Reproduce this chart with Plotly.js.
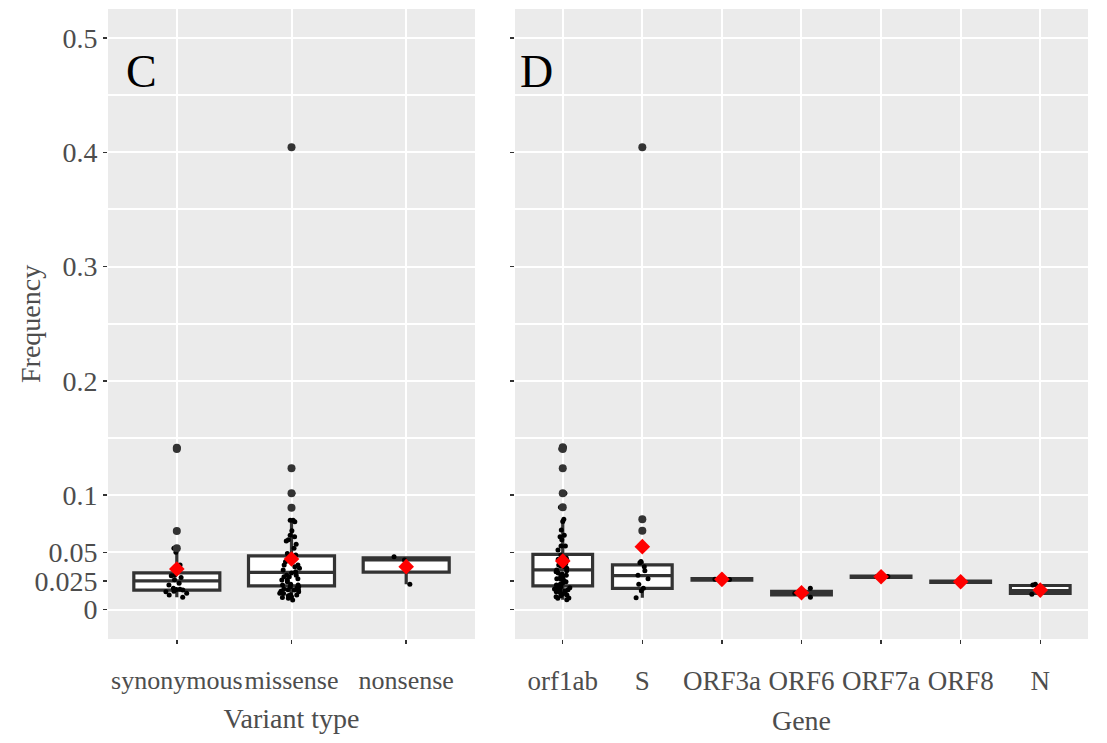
<!DOCTYPE html>
<html>
<head>
<meta charset="utf-8">
<script src="https://cdn.plot.ly/plotly-3.0.1.min.js"></script>
<style>html,body{margin:0;padding:0;background:#fff;}#chart{width:1107px;height:743px;}</style>
</head>
<body>
<div id="chart"></div>
<script>
// ---------- Panel C: variant type ----------
const variantTypes = ['synonymous', 'missense', 'nonsense'];

const synonymousFreq = [0.1416, 0.1405, 0.0687, 0.0535, 0.050, 0.039, 0.0296, 0.030, 0.028, 0.026,
  0.023, 0.0214, 0.0185, 0.0177, 0.0175, 0.0156, 0.0142, 0.016, 0.017, 0.0127, 0.0107];
const missenseFreq = [0.4044, 0.1235, 0.1017, 0.089, 0.078, 0.078, 0.0768, 0.069, 0.065, 0.0637,
  0.061, 0.060, 0.057, 0.0535, 0.049, 0.0477, 0.046, 0.0433, 0.0418, 0.039, 0.039, 0.0375, 0.036,
  0.0346, 0.033, 0.030, 0.030, 0.0287, 0.0287, 0.0258, 0.0258, 0.0243, 0.0214, 0.0214, 0.020, 0.020,
  0.019, 0.0173, 0.017, 0.017, 0.0156, 0.0142, 0.014, 0.0127, 0.0112, 0.0098, 0.0083, 0.012, 0.016,
  0.022, 0.027, 0.032, 0.045, 0.018, 0.013, 0.0105];
const nonsenseFreq = [0.0462, 0.0433, 0.022];

const variantQ1 = [0.017, 0.0206, 0.0327];
const variantMedian = [0.025, 0.0325, 0.0433];
const variantQ3 = [0.032, 0.047, 0.0452];
const variantLowerFence = [0.0107, 0.0085, 0.022];
const variantUpperFence = [0.050, 0.078, 0.0462];
const variantMean = [0.0354, 0.0442, 0.0375];

const variantOutlierType = ['synonymous', 'synonymous', 'synonymous', 'synonymous',
  'missense', 'missense', 'missense', 'missense'];
const variantOutlierFreq = [0.1416, 0.1405, 0.0687, 0.0535, 0.4044, 0.1235, 0.1017, 0.089];

// ---------- Panel D: gene ----------
const genes = ['orf1ab', 'S', 'ORF3a', 'ORF6', 'ORF7a', 'ORF8', 'N'];

const orf1abFreq = [0.142, 0.1405, 0.1235, 0.1017, 0.0894, 0.079, 0.077, 0.0696, 0.065, 0.0637,
  0.061, 0.0556, 0.0555, 0.052, 0.0477, 0.046, 0.045, 0.0433, 0.042, 0.040, 0.039, 0.0375, 0.036,
  0.0346, 0.034, 0.033, 0.031, 0.030, 0.0287, 0.028, 0.0265, 0.0258, 0.0243, 0.023, 0.0214, 0.020,
  0.019, 0.0185, 0.0173, 0.017, 0.0156, 0.015, 0.0142, 0.0135, 0.0127, 0.0112, 0.010, 0.0098, 0.0085,
  0.044, 0.038, 0.032, 0.027, 0.022, 0.018, 0.0165, 0.012];
const sFreq = [0.4044, 0.079, 0.069, 0.042, 0.041, 0.0375, 0.034, 0.030, 0.027, 0.022, 0.0185, 0.0165, 0.0103];
const orf3aFreq = [0.0264, 0.0262];
const orf6Freq = [0.0185, 0.0142, 0.0107];
const orf7aFreq = [0.0287, 0.0289];
const orf8Freq = [0.0246, 0.024];
const nFreq = [0.0214, 0.022, 0.0156, 0.0133];

const geneQ1 = [0.0206, 0.0185, 0.0256, 0.0128, 0.0281, 0.0237, 0.0142];
const geneMedian = [0.0346, 0.0296, 0.0263, 0.0143, 0.0287, 0.0243, 0.0166];
const geneQ3 = [0.0483, 0.039, 0.0270, 0.0158, 0.0293, 0.0249, 0.0210];
const geneLowerFence = [0.0085, 0.0103, 0.0256, 0.0128, 0.0281, 0.0237, 0.0133];
const geneUpperFence = [0.079, 0.042, 0.0270, 0.0158, 0.0293, 0.0249, 0.022];
const geneMean = [0.0425, 0.055, 0.0264, 0.0147, 0.0287, 0.0243, 0.017];

const geneOutlierName = ['orf1ab', 'orf1ab', 'orf1ab', 'orf1ab', 'orf1ab', 'S', 'S', 'S'];
const geneOutlierFreq = [0.142, 0.1405, 0.1235, 0.1017, 0.0894, 0.4044, 0.079, 0.069];

// y-axis ticks
const yTickVals = [0, 0.025, 0.05, 0.1, 0.2, 0.3, 0.4, 0.5];
const yTickText = ['0', '0.025', '0.05', '0.1', '0.2', '0.3', '0.4', '0.5'];
const yGridVals = [0, 0.05, 0.1, 0.15, 0.2, 0.25, 0.3, 0.35, 0.4, 0.45, 0.5];

// ---------- build ----------
function longForm(cats, groups) {
  const x = [], y = [];
  cats.forEach((c, i) => groups[i].forEach(v => { x.push(c); y.push(v); }));
  return {x, y};
}
const variantLong = longForm(variantTypes, [synonymousFreq, missenseFreq, nonsenseFreq]);
const geneLong = longForm(genes, [orf1abFreq, sFreq, orf3aFreq, orf6Freq, orf7aFreq, orf8Freq, nFreq]);

const FONT = 'Liberation Serif, Times New Roman, serif';
const boxLine = {color: '#333333', width: 3.2};

function statBox(cats, q1, med, q3, lo, hi, xa, ya) {
  return {type: 'box', x: cats, q1: q1, median: med, q3: q3, lowerfence: lo, upperfence: hi,
    xaxis: xa, yaxis: ya, width: 0.75, fillcolor: '#FFFFFF', line: boxLine, whiskerwidth: 0,
    boxpoints: false, hoverinfo: 'skip', showlegend: false};
}
function outliers(x, y, xa, ya) {
  return {type: 'scatter', mode: 'markers', x: x, y: y, xaxis: xa, yaxis: ya,
    marker: {size: 8, color: '#333333'}, hoverinfo: 'skip', showlegend: false};
}
function jitterPts(d, xa, ya) {
  return {type: 'box', x: d.x, y: d.y, xaxis: xa, yaxis: ya, width: 0.75, boxpoints: 'all',
    jitter: 0.3, pointpos: 0, fillcolor: 'rgba(0,0,0,0)', line: {width: 0, color: 'rgba(0,0,0,0)'},
    marker: {size: 5, color: '#000000'}, hoverinfo: 'skip', showlegend: false};
}
function means(cats, m, xa, ya) {
  return {type: 'scatter', mode: 'markers', x: cats, y: m, xaxis: xa, yaxis: ya,
    marker: {symbol: 'diamond', size: 12, color: '#FF0000'}, hoverinfo: 'skip', showlegend: false};
}

const data = [
  statBox(variantTypes, variantQ1, variantMedian, variantQ3, variantLowerFence, variantUpperFence, 'x', 'y'),
  statBox(genes, geneQ1, geneMedian, geneQ3, geneLowerFence, geneUpperFence, 'x2', 'y2'),
  jitterPts(variantLong, 'x', 'y'),
  jitterPts(geneLong, 'x2', 'y2'),
  outliers(variantOutlierType, variantOutlierFreq, 'x', 'y'),
  outliers(geneOutlierName, geneOutlierFreq, 'x2', 'y2'),
  means(variantTypes, variantMean, 'x', 'y'),
  means(genes, geneMean, 'x2', 'y2')
];

const titleFont = {family: FONT, size: 28, color: '#4D4D4D'};

function xAxis(cats, range, domain, anchor, title, fsize) {
  return {type: 'category', categoryorder: 'array', categoryarray: cats, range: range, domain: domain,
    anchor: anchor, showgrid: true, gridcolor: '#FFFFFF', gridwidth: 2, zeroline: false, showline: false,
    ticks: 'outside', ticklen: 4, tickwidth: 1.5, tickcolor: '#333333',
    tickfont: {family: FONT, size: fsize, color: '#4D4D4D'}, tickangle: 0,
    ticklabelstandoff: 14, fixedrange: true,
    title: {text: title, font: titleFont, standoff: 14}};
}
function yAxis(anchor, showLabels) {
  return {range: [-0.0258, 0.5254], anchor: anchor, tickmode: 'array', tickvals: yTickVals,
    ticktext: yTickText, showticklabels: showLabels, ticks: 'outside', ticklen: 4, tickwidth: 1.5,
    tickcolor: '#333333', tickfont: {family: FONT, size: 28, color: '#4D4D4D'},
    showgrid: false, zeroline: false, showline: false, fixedrange: true,
    minor: {tickmode: 'array', tickvals: yGridVals, showgrid: true, gridcolor: '#FFFFFF', gridwidth: 2, ticks: ''}};
}

const layout = {
  width: 1107, height: 743,
  margin: {l: 108, r: 19, t: 9, b: 104},
  paper_bgcolor: '#FFFFFF', plot_bgcolor: '#EBEBEB',
  boxmode: 'overlay', showlegend: false,
  font: {family: FONT},
  xaxis: xAxis(variantTypes, [-0.6, 2.6], [0, 0.3745], 'y', 'Variant type', 26),
  xaxis2: xAxis(genes, [-0.6, 6.6], [0.4153, 1], 'y2', 'Gene', 27),
  yaxis: yAxis('x', true),
  yaxis2: yAxis('x2', false),
  annotations: [
    {text: 'Frequency', xref: 'paper', yref: 'y domain', x: -0.0796, y: 0.5, xanchor: 'center',
      yanchor: 'middle', textangle: -90, showarrow: false, font: titleFont},
    {text: 'C', xref: 'x domain', yref: 'y domain', x: 0.0913, y: 0.90, xanchor: 'center', yanchor: 'middle',
      showarrow: false, font: {family: FONT, size: 46, color: '#000000'}},
    {text: 'D', xref: 'x2 domain', yref: 'y2 domain', x: 0.0367, y: 0.90, xanchor: 'center', yanchor: 'middle',
      showarrow: false, font: {family: FONT, size: 46, color: '#000000'}}
  ]
};

Plotly.newPlot('chart', data, layout, {displayModeBar: false, staticPlot: true});
</script>
</body>
</html>
